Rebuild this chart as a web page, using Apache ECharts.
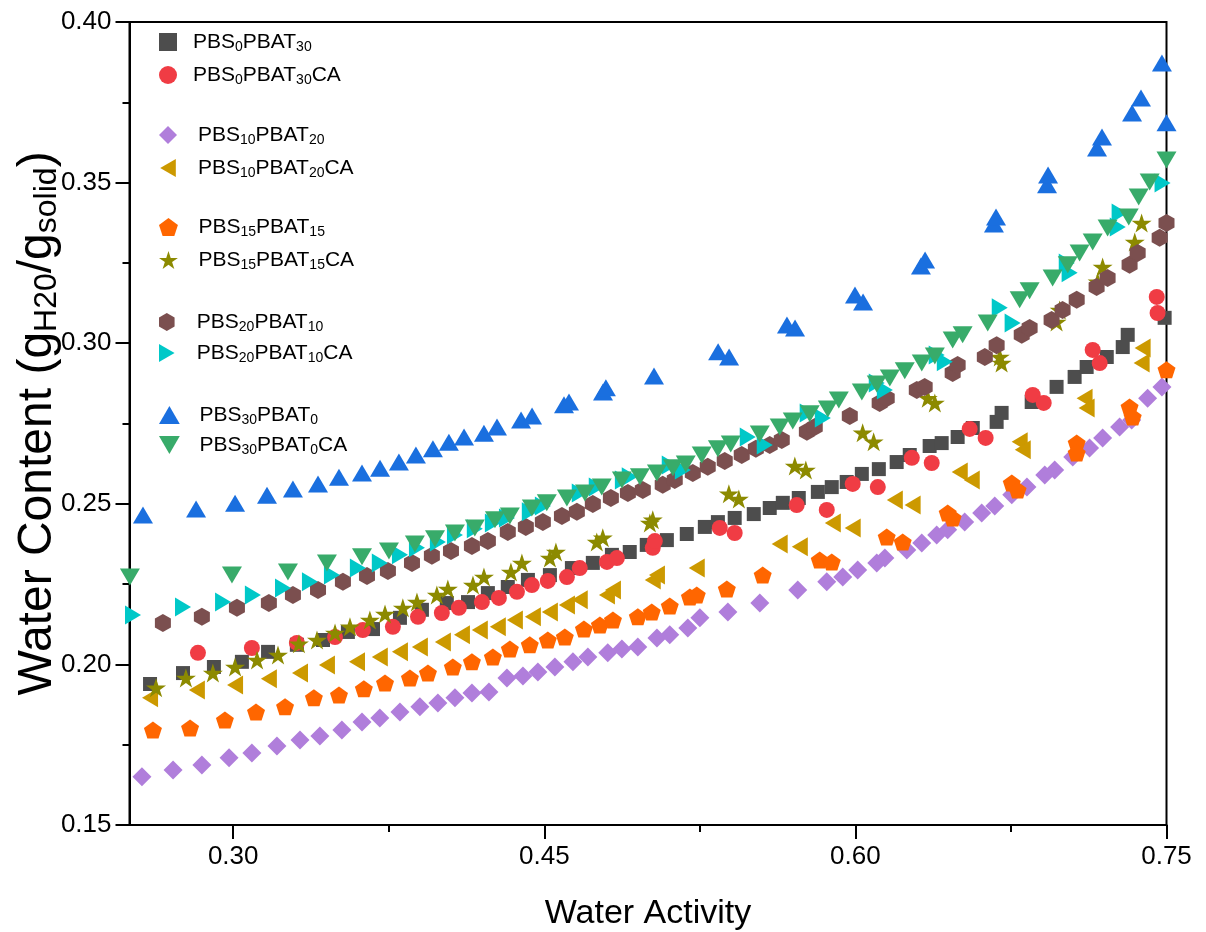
<!DOCTYPE html>
<html>
<head>
<meta charset="utf-8">
<script src="https://cdn.jsdelivr.net/npm/echarts@6/dist/echarts.min.js"></script>
<style>html,body{margin:0;padding:0;background:#fff}#c{width:1206px;height:932px}</style>
</head>
<body>
<div id="c"></div>
<script>
const FONT = 'Liberation Sans, Arial, sans-serif';
const xMajorTicks = [0.30, 0.45, 0.60, 0.75];
const xMinorTicks = [0.375, 0.525, 0.675];
const seriesNames = ['PBS0PBAT30','PBS0PBAT30CA','PBS10PBAT20','PBS10PBAT20CA','PBS15PBAT15','PBS15PBAT15CA','PBS20PBAT10','PBS20PBAT10CA','PBS30PBAT0','PBS30PBAT0CA'];

const pbs0pbat30 = [[0.2599,0.1939],[0.2758,0.1973],[0.2907,0.1992],[0.3042,0.2008],[0.3168,0.2039],[0.3307,0.2061],[0.3433,0.2076],[0.3553,0.2101],[0.3674,0.2110],[0.3804,0.2145],[0.3910,0.2170],[0.4030,0.2191],[0.4132,0.2194],[0.4228,0.2222],[0.4324,0.2241],[0.4421,0.2263],[0.4527,0.2278],[0.4633,0.2300],[0.4734,0.2316],[0.4826,0.2341],[0.4912,0.2350],[0.4994,0.2372],[0.5091,0.2387],[0.5187,0.2406],[0.5274,0.2428],[0.5337,0.2443],[0.5418,0.2456],[0.5510,0.2468],[0.5587,0.2487],[0.5650,0.2503],[0.5727,0.2518],[0.5819,0.2537],[0.5886,0.2552],[0.5958,0.2568],[0.6031,0.2593],[0.6113,0.2608],[0.6199,0.2630],[0.6262,0.2652],[0.6358,0.2680],[0.6416,0.2689],[0.6493,0.2708],[0.6566,0.2736],[0.6681,0.2755],[0.6705,0.2783],[0.6850,0.2817],[0.6970,0.2864],[0.7057,0.2895],[0.7115,0.2926],[0.7212,0.2957],[0.7289,0.2988],[0.7313,0.3026],[0.7491,0.3079]];
const pbs0pbat30ca = [[0.2830,0.2036],[0.3090,0.2051],[0.3307,0.2067],[0.3491,0.2085],[0.3625,0.2107],[0.3770,0.2117],[0.3891,0.2148],[0.4006,0.2160],[0.4088,0.2176],[0.4199,0.2194],[0.4281,0.2207],[0.4368,0.2226],[0.4440,0.2247],[0.4517,0.2260],[0.4609,0.2272],[0.4671,0.2300],[0.4802,0.2319],[0.4850,0.2331],[0.5023,0.2363],[0.5033,0.2384],[0.5346,0.2425],[0.5418,0.2409],[0.5717,0.2496],[0.5862,0.2481],[0.5987,0.2562],[0.6108,0.2552],[0.6272,0.2643],[0.6368,0.2627],[0.6551,0.2733],[0.6628,0.2705],[0.6855,0.2839],[0.6908,0.2814],[0.7144,0.2979],[0.7178,0.2938],[0.7453,0.3144],[0.7457,0.3094]];
const pbs10pbat20 = [[0.2560,0.1650],[0.2710,0.1671],[0.2849,0.1687],[0.2980,0.1709],[0.3090,0.1724],[0.3211,0.1746],[0.3322,0.1765],[0.3418,0.1777],[0.3524,0.1796],[0.3621,0.1821],[0.3707,0.1833],[0.3804,0.1852],[0.3900,0.1868],[0.3987,0.1880],[0.4069,0.1896],[0.4151,0.1911],[0.4233,0.1914],[0.4320,0.1958],[0.4397,0.1964],[0.4469,0.1976],[0.4551,0.1992],[0.4638,0.2008],[0.4710,0.2023],[0.4806,0.2036],[0.4874,0.2048],[0.4951,0.2054],[0.5043,0.2082],[0.5105,0.2092],[0.5192,0.2113],[0.5250,0.2145],[0.5385,0.2163],[0.5539,0.2191],[0.5722,0.2232],[0.5862,0.2257],[0.5939,0.2272],[0.6011,0.2294],[0.6103,0.2316],[0.6142,0.2331],[0.6248,0.2356],[0.6320,0.2378],[0.6392,0.2403],[0.6445,0.2419],[0.6527,0.2443],[0.6609,0.2471],[0.6672,0.2493],[0.6754,0.2528],[0.6827,0.2552],[0.6913,0.2590],[0.6961,0.2605],[0.7048,0.2646],[0.7129,0.2674],[0.7192,0.2705],[0.7274,0.2739],[0.7332,0.2761],[0.7409,0.2829],[0.7478,0.2864]];
const pbs10pbat20ca = [[0.2599,0.1896],[0.2825,0.1920],[0.3009,0.1936],[0.3172,0.1955],[0.3322,0.1973],[0.3452,0.1998],[0.3597,0.2008],[0.3707,0.2023],[0.3804,0.2039],[0.3900,0.2054],[0.4011,0.2070],[0.4103,0.2092],[0.4189,0.2107],[0.4276,0.2117],[0.4358,0.2138],[0.4445,0.2148],[0.4527,0.2163],[0.4609,0.2185],[0.4671,0.2201],[0.4802,0.2216],[0.4831,0.2232],[0.5023,0.2263],[0.5043,0.2278],[0.5235,0.2300],[0.5635,0.2375],[0.5732,0.2366],[0.5891,0.2440],[0.5987,0.2425],[0.6190,0.2512],[0.6276,0.2496],[0.6503,0.2599],[0.6561,0.2574],[0.6792,0.2693],[0.6807,0.2668],[0.7105,0.2829],[0.7115,0.2798],[0.7380,0.2938],[0.7385,0.2985]];
const pbs15pbat15 = [[0.2613,0.1796],[0.2792,0.1802],[0.2960,0.1827],[0.3110,0.1852],[0.3250,0.1868],[0.3389,0.1896],[0.3510,0.1905],[0.3630,0.1924],[0.3732,0.1942],[0.3852,0.1958],[0.3939,0.1973],[0.4059,0.1992],[0.4151,0.2008],[0.4252,0.2023],[0.4334,0.2048],[0.4430,0.2061],[0.4517,0.2076],[0.4599,0.2085],[0.4691,0.2110],[0.4768,0.2123],[0.4831,0.2138],[0.4951,0.2148],[0.5018,0.2163],[0.5105,0.2182],[0.5202,0.2210],[0.5235,0.2216],[0.5380,0.2235],[0.5553,0.2278],[0.5828,0.2325],[0.5886,0.2319],[0.6151,0.2397],[0.6228,0.2381],[0.6445,0.2471],[0.6469,0.2456],[0.6754,0.2565],[0.6782,0.2543],[0.7067,0.2689],[0.7067,0.2658],[0.7322,0.2801],[0.7337,0.2770],[0.7500,0.2917]];
const pbs15pbat15ca = [[0.2628,0.1927],[0.2772,0.1958],[0.2902,0.1973],[0.3009,0.1992],[0.3115,0.2014],[0.3216,0.2029],[0.3317,0.2064],[0.3404,0.2076],[0.3491,0.2098],[0.3563,0.2117],[0.3659,0.2138],[0.3732,0.2157],[0.3818,0.2176],[0.3886,0.2194],[0.3982,0.2216],[0.4035,0.2235],[0.4156,0.2247],[0.4209,0.2272],[0.4339,0.2288],[0.4392,0.2316],[0.4527,0.2331],[0.4556,0.2350],[0.4753,0.2381],[0.4782,0.2394],[0.5009,0.2440],[0.5023,0.2450],[0.5390,0.2531],[0.5438,0.2515],[0.5708,0.2618],[0.5761,0.2605],[0.6035,0.2721],[0.6088,0.2693],[0.6349,0.2829],[0.6383,0.2814],[0.6696,0.2957],[0.6705,0.2938],[0.6970,0.3066],[0.6985,0.3103],[0.7168,0.3191],[0.7192,0.3237],[0.7347,0.3315],[0.7380,0.3374]];
const pbs20pbat10 = [[0.2661,0.2129],[0.2849,0.2148],[0.3018,0.2176],[0.3172,0.2191],[0.3288,0.2216],[0.3409,0.2232],[0.3529,0.2257],[0.3645,0.2275],[0.3746,0.2291],[0.3862,0.2316],[0.3958,0.2338],[0.4050,0.2353],[0.4151,0.2369],[0.4228,0.2384],[0.4324,0.2412],[0.4411,0.2428],[0.4493,0.2443],[0.4585,0.2462],[0.4657,0.2475],[0.4734,0.2499],[0.4821,0.2518],[0.4903,0.2534],[0.4975,0.2543],[0.5071,0.2559],[0.5129,0.2574],[0.5216,0.2596],[0.5288,0.2615],[0.5370,0.2633],[0.5452,0.2652],[0.5520,0.2671],[0.5587,0.2683],[0.5645,0.2699],[0.5766,0.2724],[0.5804,0.2739],[0.5973,0.2773],[0.6117,0.2814],[0.6151,0.2829],[0.6296,0.2854],[0.6334,0.2864],[0.6469,0.2907],[0.6493,0.2932],[0.6624,0.2957],[0.6681,0.2994],[0.6802,0.3026],[0.6840,0.3047],[0.6946,0.3072],[0.6999,0.3103],[0.7067,0.3135],[0.7163,0.3175],[0.7216,0.3203],[0.7322,0.3244],[0.7361,0.3281],[0.7467,0.3328],[0.7500,0.3374]];
const pbs20pbat10ca = [[0.2517,0.2154],[0.2758,0.2179],[0.2951,0.2194],[0.3095,0.2216],[0.3240,0.2238],[0.3370,0.2257],[0.3476,0.2278],[0.3601,0.2300],[0.3707,0.2316],[0.3804,0.2341],[0.3886,0.2363],[0.3987,0.2381],[0.4069,0.2403],[0.4165,0.2422],[0.4252,0.2440],[0.4320,0.2456],[0.4430,0.2475],[0.4493,0.2493],[0.4671,0.2534],[0.4753,0.2552],[0.4879,0.2574],[0.4912,0.2584],[0.5105,0.2621],[0.5168,0.2605],[0.5481,0.2708],[0.5563,0.2683],[0.5770,0.2783],[0.5843,0.2767],[0.6103,0.2876],[0.6142,0.2854],[0.6392,0.2963],[0.6431,0.2942],[0.6696,0.3110],[0.6758,0.3063],[0.7019,0.3250],[0.7033,0.3219],[0.7265,0.3362],[0.7274,0.3405],[0.7481,0.3499]];
const pbs30pbat0 = [[0.2565,0.2465],[0.2821,0.2484],[0.3009,0.2502],[0.3163,0.2527],[0.3288,0.2546],[0.3409,0.2562],[0.3510,0.2583],[0.3621,0.2596],[0.3708,0.2611],[0.3799,0.2630],[0.3881,0.2652],[0.3963,0.2671],[0.4040,0.2692],[0.4113,0.2708],[0.4209,0.2720],[0.4272,0.2739],[0.4388,0.2761],[0.4441,0.2773],[0.4595,0.2808],[0.4619,0.2817],[0.4783,0.2848],[0.4797,0.2861],[0.5029,0.2898],[0.5338,0.2973],[0.5391,0.2957],[0.5670,0.3057],[0.5709,0.3047],[0.5998,0.3150],[0.6037,0.3128],[0.6316,0.3240],[0.6336,0.3259],[0.6668,0.3371],[0.6678,0.3393],[0.6924,0.3493],[0.6929,0.3524],[0.7165,0.3608],[0.7189,0.3642],[0.7334,0.3717],[0.7377,0.3763],[0.7478,0.3872],[0.7500,0.3686]];
const pbs30pbat0ca = [[0.2502,0.2272],[0.2994,0.2278],[0.3264,0.2288],[0.3452,0.2316],[0.3621,0.2335],[0.3751,0.2353],[0.3876,0.2375],[0.3973,0.2391],[0.4069,0.2409],[0.4165,0.2425],[0.4262,0.2450],[0.4334,0.2462],[0.4440,0.2487],[0.4512,0.2503],[0.4609,0.2518],[0.4696,0.2534],[0.4777,0.2552],[0.4874,0.2574],[0.4961,0.2584],[0.5043,0.2596],[0.5120,0.2612],[0.5182,0.2624],[0.5259,0.2652],[0.5337,0.2671],[0.5399,0.2686],[0.5539,0.2717],[0.5635,0.2739],[0.5698,0.2758],[0.5780,0.2780],[0.5867,0.2795],[0.5920,0.2823],[0.6031,0.2848],[0.6103,0.2873],[0.6166,0.2892],[0.6238,0.2914],[0.6320,0.2938],[0.6383,0.2960],[0.6469,0.3010],[0.6517,0.3026],[0.6638,0.3063],[0.6792,0.3135],[0.6840,0.3163],[0.6951,0.3203],[0.7024,0.3244],[0.7081,0.3281],[0.7144,0.3315],[0.7216,0.3359],[0.7318,0.3393],[0.7366,0.3455],[0.7419,0.3502],[0.7500,0.3570]];

const seriesData = [pbs0pbat30, pbs0pbat30ca, pbs10pbat20, pbs10pbat20ca, pbs15pbat15, pbs15pbat15ca, pbs20pbat10, pbs20pbat10ca, pbs30pbat0, pbs30pbat0ca];
const seriesColors = ['#4d4d4d','#f03c44','#b07edb','#cc9900','#ff6600','#8c8a00','#7b4f4f','#00c8c8','#1a6fdf','#38ab6a'];

const SYM = {
  square: 'path://M0,0 L100,0 L100,100 L0,100 Z',
  diamond: 'path://M50,0 L100,50 L50,100 L0,50 Z',
  upTri: 'path://M50,0 L100,86.6 L0,86.6 Z',
  leftTri: 'path://M0,50 L86.6,0 L86.6,100 Z',
  rightTri: 'path://M0,0 L86.6,50 L0,100 Z',
  downTri: 'path://M0,0 L100,0 L50,86.6 Z',
  pentagon: 'path://M50,0 L97.55,34.55 L79.39,90.45 L20.61,90.45 L2.45,34.55 Z',
  star: 'path://M50,0 L61.23,34.55 L97.55,34.55 L68.17,55.9 L79.39,90.45 L50,69.1 L20.61,90.45 L31.83,55.9 L2.45,34.55 L38.77,34.55 Z',
  hexagon: 'path://M50,0 L93.3,25 L93.3,75 L50,100 L6.7,75 L6.7,25 Z'
};
const seriesSymbols = [SYM.square,'circle',SYM.diamond,SYM.leftTri,SYM.pentagon,SYM.star,SYM.hexagon,SYM.rightTri,SYM.upTri,SYM.downTri];
const seriesSizes = [14,16,19,[16,19],[18,17],[20,19],[16,18],[16,19],[20,17],[20,17]];

const legendGroups = [
  {names:[seriesNames[0],seriesNames[1]], top:19, w:40, gap:3},
  {names:[seriesNames[2],seriesNames[3]], top:112, w:50, gap:3},
  {names:[seriesNames[4],seriesNames[5]], top:204, w:50, gap:3},
  {names:[seriesNames[6],seriesNames[7]], top:299, w:50, gap:1},
  {names:[seriesNames[8],seriesNames[9]], top:392, w:50, gap:0}
];

function richName(n){
  return n.replace(/([A-Za-z]+)/g,'{a|$1}').replace(/(\d+)/g,'{s|$1}');
}

const legends = legendGroups.map(g => ({
  data: g.names,
  orient: 'vertical',
  left: 154,
  top: g.top,
  itemWidth: g.w,
  itemHeight: 18,
  itemGap: g.gap,
  symbolKeepAspect: true,
  selectedMode: false,
  formatter: richName,
  textStyle: {
    color:'#000', fontFamily: FONT, fontSize: 21,
    rich: {
      a: {fontSize:21, lineHeight:24, fontFamily:FONT, color:'#000', verticalAlign:'middle'},
      s: {fontSize:14, lineHeight:14, fontFamily:FONT, color:'#000', verticalAlign:'bottom', padding:[16,0,0,0]}
    }
  }
}));

const chart = echarts.init(document.getElementById('c'), null, {renderer:'canvas'});
chart.setOption({
  animation: false,
  backgroundColor: '#fff',
  grid: {left:129.5, right:39.5, top:22, bottom:107, show:true, borderColor:'#000', borderWidth:2, backgroundColor:'transparent', containLabel:false, outerBoundsMode:'none'},
  legend: legends,
  xAxis: [{
    type:'value', min:0.25, max:0.75, position:'bottom',
    name:'Water Activity', nameLocation:'middle', nameGap:72, nameMoveOverlap:false,
    nameTextStyle:{fontSize:34, fontFamily:FONT, color:'#000'},
    axisLine:{show:true, onZero:false, lineStyle:{color:'#000', width:2}},
    axisTick:{show:true, inside:false, length:14, lineStyle:{color:'#000', width:2}, customValues:xMajorTicks},
    axisLabel:{show:true, customValues:xMajorTicks, formatter:v=>v.toFixed(2), fontSize:26, fontFamily:FONT, color:'#000', margin:19},
    splitLine:{show:false}
  },{
    type:'value', min:0.25, max:0.75, position:'bottom',
    axisLine:{show:false},
    axisTick:{show:true, inside:false, length:7, lineStyle:{color:'#000', width:2}, customValues:xMinorTicks},
    axisLabel:{show:false},
    splitLine:{show:false}
  }],
  yAxis: {
    type:'value', min:0.15, max:0.40, interval:0.05,
    name:'Water Content (g{s|H20}/g{s|solid})', nameLocation:'middle', nameGap:66, nameMoveOverlap:false,
    nameTextStyle:{fontSize:48, fontFamily:FONT, color:'#000', lineHeight:52,
      rich:{ s:{fontSize:32, lineHeight:32, fontFamily:FONT, color:'#000', verticalAlign:'bottom', padding:[37,0,0,0]} }},
    axisLine:{show:true, onZero:false, lineStyle:{color:'#000', width:2}},
    axisTick:{show:true, inside:false, length:14, lineStyle:{color:'#000', width:2}},
    minorTick:{show:true, splitNumber:2, length:7, lineStyle:{color:'#000', width:2}},
    axisLabel:{formatter:v=>v.toFixed(2), fontSize:26, fontFamily:FONT, color:'#000', margin:18},
    splitLine:{show:false}, minorSplitLine:{show:false}
  },
  series: seriesNames.map((n,i) => ({
    name:n, type:'scatter', xAxisIndex:0, yAxisIndex:0,
    data: seriesData[i],
    symbol: seriesSymbols[i], symbolSize: seriesSizes[i],
    symbolKeepAspect: false,
    itemStyle:{color:seriesColors[i], opacity:1},
    emphasis:{disabled:true},
    clip:true
  }))
});
</script>
</body>
</html>
